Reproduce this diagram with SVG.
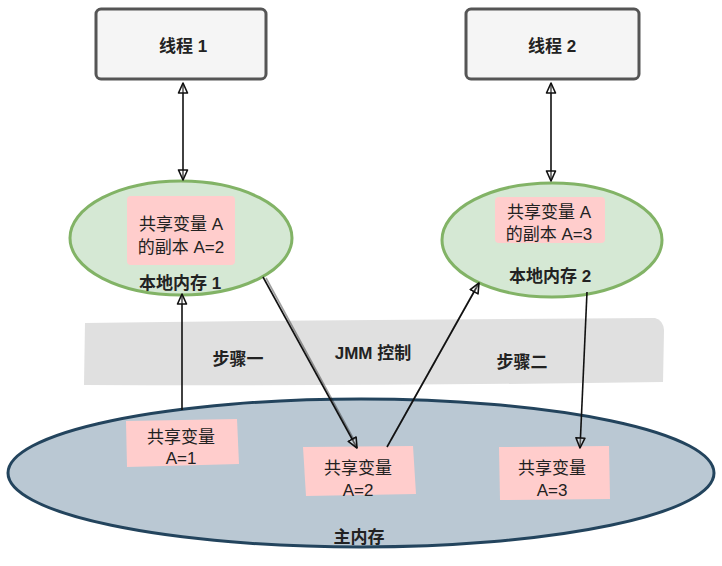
<svg xmlns="http://www.w3.org/2000/svg" width="722" height="566" viewBox="0 0 722 566">
<style>
.thread{fill:#f5f5f5;stroke:#555;stroke-width:3}
.local{fill:#d5e8d4;stroke:#82b366;stroke-width:3}
.pink{fill:#ffcdcc;stroke:none}
.t{font-family:"Liberation Sans","Noto Sans CJK SC",sans-serif;font-size:17px;fill:#222;text-anchor:middle}
.b{font-weight:bold}
.conn{stroke:#111;stroke-width:1.6;fill:none}
</style>
<defs>
<marker id="ah" viewBox="0 0 12 12" refX="11" refY="6" markerWidth="12" markerHeight="12" markerUnits="userSpaceOnUse" orient="auto-start-reverse">
<path d="M1,1.5 L11,6 L1,10.5 Z" fill="#fff" fill-opacity="0.3" stroke="#111" stroke-width="1.6" stroke-linejoin="round"/>
</marker>
</defs>
<rect x="0" y="0" width="722" height="566" fill="#fff"/>

<g id="jmm-band">
<path d="M85,323 Q300,320 655,318 Q663,320 664,330 L663,382 Q400,386 84,385 Z" fill="#e0e0e0"/>
<text class="t b" x="238" y="365">步骤一</text>
<text class="t b" x="373" y="359">JMM 控制</text>
<text class="t b" x="522" y="368">步骤二</text>
</g>

<g id="main-memory">
<ellipse cx="361" cy="473" rx="353" ry="74" fill="#bac8d3" stroke="#23445d" stroke-width="3"/>
<text class="t b" x="359" y="543" font-size="20">主内存</text>
</g>

<g id="thread1">
<rect class="thread" x="96" y="9" width="170" height="70" rx="5"/>
<text class="t b" x="183" y="52" font-size="18" fill="#333">线程 1</text>
</g>
<g id="thread2">
<rect class="thread" x="466" y="9" width="173" height="70" rx="5"/>
<text class="t b" x="552" y="52" font-size="18" fill="#333">线程 2</text>
</g>

<g id="local1">
<ellipse class="local" cx="181" cy="238" rx="111" ry="57"/>
<rect class="pink" x="127" y="196" width="108" height="69" rx="4"/>
<text class="t" x="181" y="230">共享变量 A</text>
<text class="t" x="181" y="253">的副本 A=2</text>
<text class="t b" x="180" y="289">本地内存 1</text>
</g>
<g id="local2">
<ellipse class="local" cx="552" cy="240" rx="110" ry="57"/>
<rect class="pink" x="495" y="197" width="110" height="46" rx="4"/>
<text class="t" x="549" y="218">共享变量 A</text>
<text class="t" x="549" y="240">的副本 A=3</text>
<text class="t b" x="550" y="282">本地内存 2</text>
</g>

<g id="var1">
<path class="pink" d="M126,421 L237,419 L239,464 L127,467 Z"/>
<text class="t" x="181" y="443">共享变量</text>
<text class="t" x="181" y="464">A=1</text>
</g>
<g id="var2">
<path class="pink" d="M303,447 L413,446 L416,494 L306,496 Z"/>
<text class="t" x="358" y="474">共享变量</text>
<text class="t" x="358" y="496">A=2</text>
</g>
<g id="var3">
<path class="pink" d="M499,447 L609,446 L610,499 L500,500 Z"/>
<text class="t" x="552" y="474">共享变量</text>
<text class="t" x="552" y="496">A=3</text>
</g>

<g id="connectors">
<line class="conn" x1="183" y1="83" x2="183" y2="180" marker-start="url(#ah)" marker-end="url(#ah)"/>
<line class="conn" x1="551" y1="83" x2="551" y2="181" marker-start="url(#ah)" marker-end="url(#ah)"/>
<line class="conn" x1="182" y1="410" x2="182" y2="294" marker-end="url(#ah)"/>
<line class="conn" x1="263" y1="277" x2="357" y2="448" marker-end="url(#ah)"/>
<line class="conn" x1="266" y1="278" x2="354" y2="440" stroke-opacity="0.4"/>
<line class="conn" x1="387" y1="447" x2="479" y2="283" marker-end="url(#ah)"/>
<line class="conn" x1="391" y1="440" x2="476" y2="288" stroke-opacity="0.4"/>
<line class="conn" x1="587" y1="292" x2="580" y2="448" marker-end="url(#ah)"/>
</g>
</svg>
